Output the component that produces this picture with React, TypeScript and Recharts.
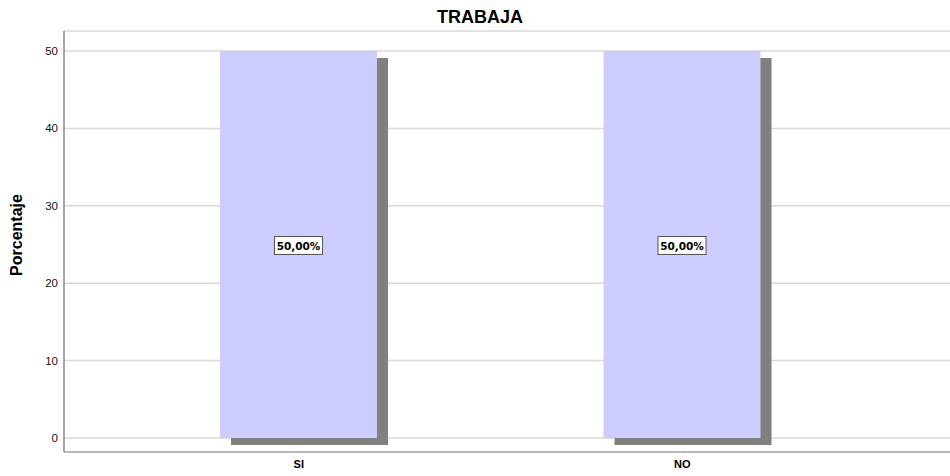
import { Bar, BarChart, CartesianGrid, LabelList, XAxis, YAxis } from "recharts"

const categories = ["SI", "NO"]
const percentages = [50, 50]
const yTicks = [0, 10, 20, 30, 40, 50]

const data = categories.map((name, i) => ({ name, value: percentages[i] }))

const FONT = "'Liberation Sans', Arial, sans-serif"

// bar with a grey drop shadow offset down-right
const ShadowBar = (props: any) => {
  const { x, y, width, height } = props
  return (
    <g>
      <rect x={x + 11} y={y + 7} width={width} height={height} fill="#808080" />
      <rect x={x} y={y} width={width} height={height} fill="#ccccff" />
    </g>
  )
}

const BoxLabel = (props: any) => {
  const { x, y, width, height, value } = props
  const cx = x + width / 2
  const cy = y + height / 2
  const text = `${Number(value).toFixed(2).replace(".", ",")}%`
  return (
    <g>
      <rect x={cx - 24} y={cy - 8} width={48} height={18} fill="#fff" stroke="#555" strokeWidth={1} />
      <text
        x={cx}
        y={cy + 5}
        textAnchor="middle"
        fontFamily="'DejaVu Sans', sans-serif"
        fontWeight="bold"
        fontSize={10.5}
        fill="#000"
      >
        {text}
      </text>
    </g>
  )
}

const AxisTitle = () => (
  <text
    x={21.5}
    y={235}
    transform="rotate(-90, 21.5, 235)"
    textAnchor="middle"
    fontFamily={FONT}
    fontWeight="bold"
    fontSize={16}
    fill="#000"
  >
    Porcentaje
  </text>
)

export default function App() {
  return (
    <div style={{ position: "absolute", left: 0, top: 0, width: 950, height: 476, background: "#fff" }}>
      <div
        style={{
          position: "absolute",
          left: 380,
          width: 200,
          top: 8,
          textAlign: "center",
          fontFamily: FONT,
          fontWeight: "bold",
          fontSize: 18,
          lineHeight: "18px",
          color: "#000",
        }}
      >
        TRABAJA
      </div>
      <BarChart width={950} height={476} data={data} margin={{ top: 31, right: 0, bottom: 0, left: 0 }}>
        <CartesianGrid vertical={false} stroke="#d9d9d9" strokeWidth={1.5} />
        <XAxis
          dataKey="name"
          height={24}
          padding={{ left: 43, right: 76 }}
          stroke="#aaaaaa"
          strokeWidth={1.5}
          tickLine={false}
          tickSize={6}
          tickMargin={2}
          tick={{ fontFamily: FONT, fontWeight: "bold", fontSize: 11, fill: "#000", stroke: "none" }}
        />
        <YAxis
          width={64}
          domain={[0, 50]}
          ticks={yTicks}
          padding={{ top: 20, bottom: 14 }}
          stroke="#888888"
          strokeWidth={1.5}
          tickLine={false}
          tickSize={4}
          tickMargin={2}
          tick={{ fontFamily: FONT, fontSize: 11.5, fill: "#111", stroke: "none" }}
          label={{ content: <AxisTitle /> }}
        />
        <Bar dataKey="value" barSize={157} shape={<ShadowBar />} isAnimationActive={false}>
          <LabelList dataKey="value" content={<BoxLabel />} />
        </Bar>
      </BarChart>
    </div>
  )
}
